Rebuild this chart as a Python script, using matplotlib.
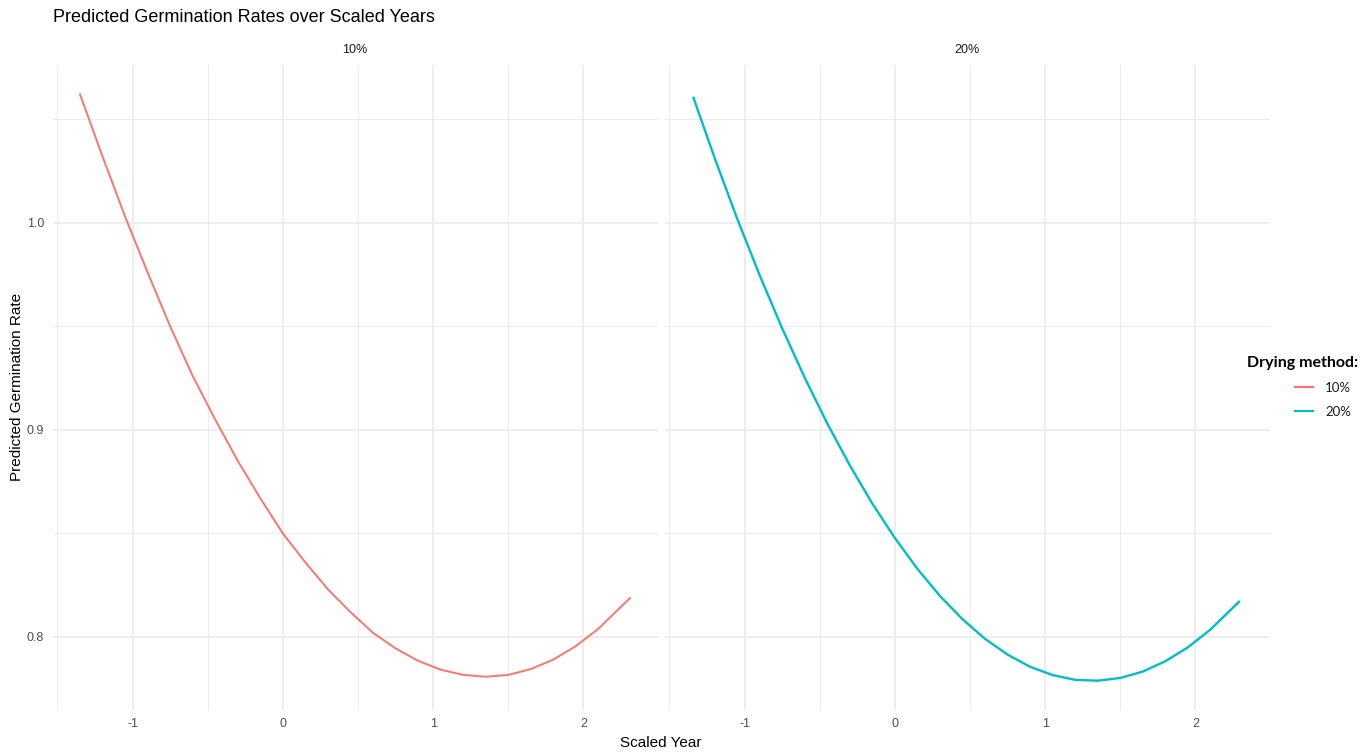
import numpy as np
import matplotlib
matplotlib.use("Agg")
import matplotlib.pyplot as plt
from matplotlib.lines import Line2D

# --- data ---
groups = ["10%", "20%"]
colors = ["#F8766D", "#00BFC4"]

year_10 = [-1.35, -1.2, -1.05, -0.9, -0.75, -0.6, -0.45, -0.3, -0.15, 0.0, 0.15, 0.3, 0.45,
           0.6, 0.75, 0.9, 1.05, 1.2, 1.35, 1.5, 1.65, 1.8, 1.95, 2.1, 2.31]
rate_10 = [1.062, 1.032, 1.003, 0.976, 0.950, 0.926, 0.905, 0.885, 0.867, 0.850, 0.836, 0.823,
           0.812, 0.802, 0.7945, 0.7885, 0.7842, 0.7817, 0.7808, 0.7817, 0.7845, 0.7891, 0.7956,
           0.804, 0.8188]

year_20 = [-1.34, -1.2, -1.05, -0.9, -0.75, -0.6, -0.45, -0.3, -0.15, 0.0, 0.15, 0.3, 0.45,
           0.6, 0.75, 0.9, 1.05, 1.2, 1.35, 1.5, 1.65, 1.8, 1.95, 2.1, 2.29]
rate_20 = [1.0603, 1.0314, 1.0021, 0.9747, 0.949, 0.9252, 0.9031, 0.8829, 0.8644, 0.8478,
           0.8329, 0.8198, 0.8086, 0.7991, 0.7915, 0.7856, 0.7816, 0.7793, 0.7789, 0.7802,
           0.7833, 0.7883, 0.795, 0.8036, 0.817]

x_major = [-1, 0, 1, 2]
x_minor = [-1.5, -0.5, 0.5, 1.5]
y_major = [0.8, 0.9, 1.0]
y_minor = [0.85, 0.95, 1.05]

series = [(year_10, rate_10), (year_20, rate_20)]

plt.rcParams['font.family'] = ['Liberation Sans', 'DejaVu Sans']

W, H = 1372, 753
fig = plt.figure(figsize=(W / 100, H / 100), dpi=100)

# ggplot-style expanded limits (5%)
all_x = np.concatenate([year_10, year_20])
all_y = np.concatenate([rate_10, rate_20])
dx = (all_x.max() - all_x.min()) * 0.05
dy = (all_y.max() - all_y.min()) * 0.05
xlim = (all_x.min() - dx, all_x.max() + dx)
ylim = (all_y.min() - dy, all_y.max() + dy)

grid_c = "#EBEBEB"
panel_lefts = [52.5, 664.5]
panel_w = 605
panel_top, panel_bot = 65, 710

for i, (left, (xs, ys)) in enumerate(zip(panel_lefts, series)):
    ax = fig.add_axes([left / W, 1 - panel_bot / H, panel_w / W, (panel_bot - panel_top) / H])
    ax.set_xlim(*xlim)
    ax.set_ylim(*ylim)
    for v in x_minor:
        ax.axvline(v, color=grid_c, lw=0.7, zorder=0)
    for v in x_major:
        ax.axvline(v, color=grid_c, lw=1.2, zorder=0)
    for v in y_minor:
        ax.axhline(v, color=grid_c, lw=0.7, zorder=0)
    for v in y_major:
        ax.axhline(v, color=grid_c, lw=1.2, zorder=0)
    ax.plot(xs, ys, color=colors[i], lw=1.4 if i == 0 else 1.7, zorder=3)
    for s in ax.spines.values():
        s.set_visible(False)
    ax.set_xticks(x_major)
    ax.set_xticklabels([str(v) for v in x_major])
    ax.tick_params(axis='both', length=0, labelsize=9, labelcolor="#4D4D4D", pad=6)
    if i == 0:
        ax.set_yticks(y_major)
        ax.set_yticklabels([f"{v:.1f}" for v in y_major])
    else:
        ax.set_yticks([])
    ax.text(0.5, 1 + 15 / (panel_bot - panel_top), groups[i], transform=ax.transAxes,
            ha='center', va='center', fontsize=9, color="#1A1A1A")

fig.text(53 / W, 1 - 18 / H, "Predicted Germination Rates over Scaled Years",
         ha='left', va='center', fontsize=13, color="black")
fig.text(661 / W, 1 - 743 / H, "Scaled Year", ha='center', va='center', fontsize=11)
fig.text(17 / W, 1 - 387 / H, "Predicted Germination Rate", ha='center', va='center',
         rotation=90, fontsize=11)

# legend: title placed separately, keys shifted right as in the reference
fig.text(1247 / W, 1 - 363 / H, "Drying method:", ha='left', va='center',
         family='Lato', weight='bold', fontsize=11.5, color="black")
handles = [Line2D([0], [0], color=c, lw=1.6) for c in colors]
leg = fig.legend(handles, groups, loc='center left',
                 bbox_to_anchor=(1295 / W, 1 - 400 / H), frameon=False,
                 prop={'family': 'Lato', 'size': 9.5}, handlelength=1.4,
                 handletextpad=0.9, labelspacing=0.9, borderpad=0, borderaxespad=0)
for t in leg.get_texts():
    t.set_color("#1A1A1A")

fig.savefig("out.png", dpi=100)
